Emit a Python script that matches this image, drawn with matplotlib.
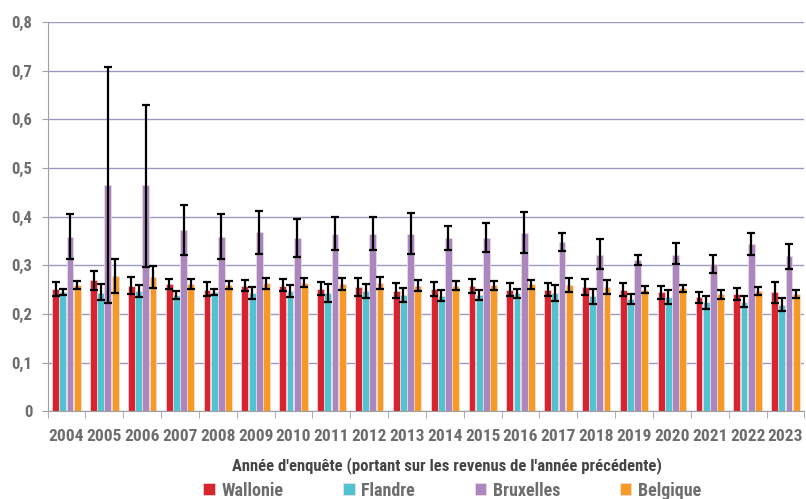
import matplotlib.pyplot as plt
import numpy as np

years = [str(y) for y in range(2004, 2024)]
regions = ['Wallonie', 'Flandre', 'Bruxelles', 'Belgique']
colors = ['#d7242e', '#4fc4d0', '#ab87c0', '#f59b25']

# Gini values (bar heights)
wallonie = [0.251, 0.269, 0.258, 0.261, 0.250, 0.257, 0.258, 0.252, 0.255, 0.248,
            0.251, 0.257, 0.250, 0.250, 0.255, 0.250, 0.244, 0.234, 0.241, 0.244]
flandre = [0.245, 0.243, 0.247, 0.239, 0.244, 0.242, 0.247, 0.243, 0.247, 0.239,
           0.237, 0.239, 0.242, 0.242, 0.237, 0.230, 0.235, 0.224, 0.224, 0.219]
bruxelles = [0.358, 0.464, 0.464, 0.372, 0.358, 0.368, 0.355, 0.365, 0.365, 0.365,
             0.356, 0.356, 0.367, 0.347, 0.322, 0.311, 0.322, 0.302, 0.344, 0.318]
belgique = [0.259, 0.278, 0.276, 0.261, 0.259, 0.263, 0.264, 0.261, 0.264, 0.257,
            0.258, 0.259, 0.261, 0.259, 0.255, 0.250, 0.253, 0.240, 0.248, 0.241]

# confidence interval bounds
wallonie_lo = [0.237, 0.249, 0.240, 0.251, 0.236, 0.246, 0.246, 0.239, 0.237, 0.232,
               0.237, 0.243, 0.236, 0.237, 0.239, 0.237, 0.230, 0.223, 0.228, 0.223]
wallonie_hi = [0.265, 0.289, 0.276, 0.271, 0.265, 0.270, 0.271, 0.265, 0.274, 0.264,
               0.265, 0.272, 0.264, 0.263, 0.271, 0.264, 0.258, 0.245, 0.253, 0.266]
flandre_lo = [0.239, 0.228, 0.235, 0.230, 0.239, 0.230, 0.235, 0.224, 0.232, 0.224,
              0.226, 0.228, 0.232, 0.226, 0.220, 0.221, 0.220, 0.211, 0.214, 0.206]
flandre_hi = [0.251, 0.261, 0.259, 0.246, 0.251, 0.255, 0.259, 0.261, 0.261, 0.253,
              0.249, 0.250, 0.252, 0.259, 0.252, 0.240, 0.250, 0.237, 0.236, 0.232]
bruxelles_lo = [0.313, 0.222, 0.297, 0.321, 0.313, 0.324, 0.317, 0.331, 0.331, 0.323,
                0.332, 0.327, 0.325, 0.329, 0.292, 0.301, 0.302, 0.283, 0.320, 0.292]
bruxelles_hi = [0.405, 0.707, 0.630, 0.424, 0.405, 0.412, 0.394, 0.399, 0.399, 0.407,
                0.380, 0.386, 0.409, 0.367, 0.353, 0.320, 0.345, 0.320, 0.367, 0.344]
belgique_lo = [0.251, 0.242, 0.254, 0.252, 0.252, 0.252, 0.255, 0.249, 0.252, 0.246,
               0.249, 0.250, 0.252, 0.245, 0.241, 0.242, 0.245, 0.231, 0.239, 0.232]
belgique_hi = [0.268, 0.313, 0.299, 0.271, 0.268, 0.274, 0.274, 0.274, 0.276, 0.270,
               0.267, 0.268, 0.270, 0.274, 0.270, 0.257, 0.259, 0.249, 0.256, 0.250]

series = [(wallonie, wallonie_lo, wallonie_hi),
          (flandre, flandre_lo, flandre_hi),
          (bruxelles, bruxelles_lo, bruxelles_hi),
          (belgique, belgique_lo, belgique_hi)]

plt.rcParams['font.family'] = ['Roboto Condensed', 'DejaVu Sans']
plt.rcParams['font.weight'] = 'bold'

fig = plt.figure(figsize=(8.06, 4.99), dpi=100)
ax = fig.add_axes([0.059, 0.176, 0.939, 0.780])

x = np.arange(len(years))
width = 0.19
for i, (vals, lo, hi) in enumerate(series):
    vals = np.array(vals)
    err = [vals - np.array(lo), np.array(hi) - vals]
    ax.bar(x + (i - 1.5) * width, vals, width * 0.95, color=colors[i],
           edgecolor='#f6dde4', linewidth=0.5, label=regions[i], zorder=2,
           yerr=err, error_kw=dict(ecolor='black', elinewidth=1.6, capsize=3, capthick=1.6, zorder=3))

ax.set_xlim(-0.5, len(years) - 0.5)
ax.set_ylim(0, 0.8)
ax.set_yticks(np.arange(0, 0.81, 0.1))
ax.set_yticklabels(['0'] + [f'0,{k}' for k in range(1, 9)], color='#6d6d6d', fontsize=12)
ax.set_xticks(x)
ax.set_xticklabels(years, color='#6d6d6d', fontsize=12.5)
ax.set_xticks(np.arange(-0.5, len(years), 1), minor=True)
ax.tick_params(axis='x', which='major', length=0, pad=13)
ax.tick_params(axis='x', which='minor', length=5, color='#a0a0a0')
ax.tick_params(axis='y', length=4, color='#a0a0a0', pad=7)
ax.grid(axis='y', color='#9a9ac0', linewidth=1, zorder=0)
ax.set_axisbelow(True)
for side in ['top', 'right']:
    ax.spines[side].set_visible(False)
ax.spines['left'].set_color('#a0a0a0')
ax.spines['bottom'].set_color('#a0a0a0')

ax.set_xlabel("Année d'enquête (portant sur les revenus de l'année précédente)",
              color='#454545', fontsize=12, fontweight='bold', labelpad=9, x=0.528)
fig.legend(loc='center', bbox_to_anchor=(0.561, 0.017), ncol=4, frameon=False,
           handlelength=0.65, handleheight=0.65, columnspacing=3.3, handletextpad=0.35,
           prop={'size': 13, 'weight': 'bold'}, labelcolor='#6d6d6d')

fig.savefig('out.png', dpi=100)
